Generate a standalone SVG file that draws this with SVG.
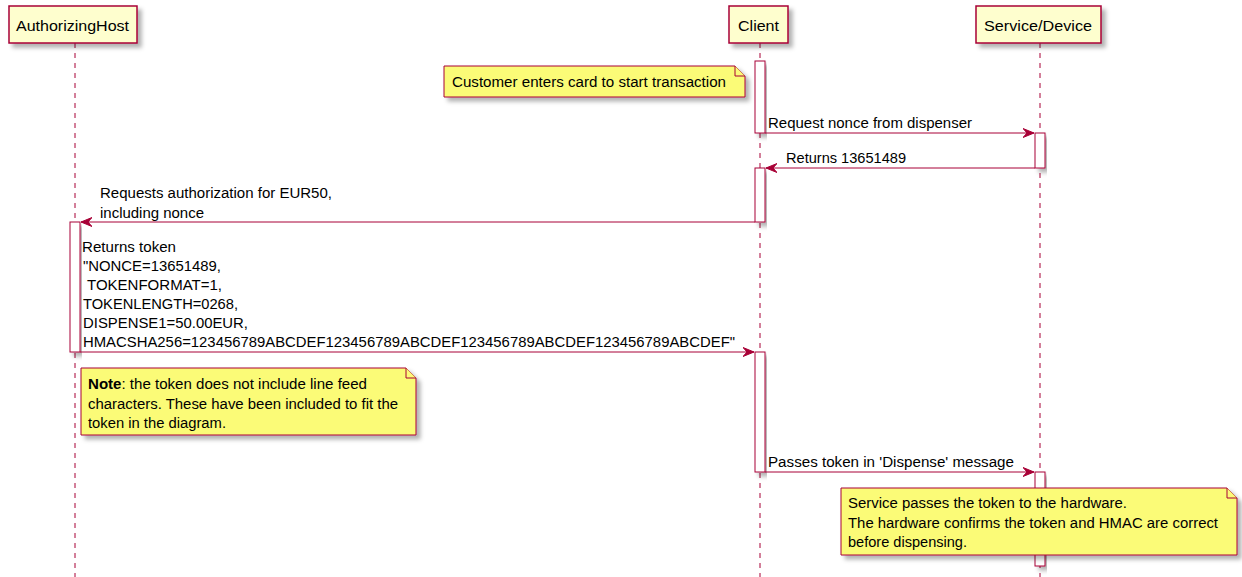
<svg xmlns="http://www.w3.org/2000/svg" width="1242" height="577" viewBox="0 0 1242 577">
<style>
text{font-family:"Liberation Sans",Arial,sans-serif;fill:#000}
.part{fill:#FEFECE;stroke:#A80036;stroke-width:1.5}
.life{stroke:#A80036;stroke-width:1;stroke-dasharray:5,5;fill:none}
.act{fill:#FFFFFF;stroke:#A80036;stroke-width:1}
.note{fill:#FBFB77;stroke:#A80036;stroke-width:1}
.msg{stroke:#A80036;stroke-width:1;fill:none}
.pt{font-size:15px}
.mt{font-size:14px}
.nt{font-size:14px}
</style>
<defs>
<filter id="sh" x="-10%" y="-10%" width="130%" height="140%">
<feDropShadow dx="4" dy="4" stdDeviation="2" flood-color="#000" flood-opacity="0.3"/>
</filter>
<marker id="ah" markerWidth="14" markerHeight="12" refX="11" refY="6" orient="auto-start-reverse" markerUnits="userSpaceOnUse">
<polygon points="0,1.5 11,6 0,10.5 4,6" fill="#A80036" stroke="#A80036" stroke-width="1"/>
</marker>
</defs>
<rect width="1242" height="577" fill="#FFFFFF"/>

<g id="lifelines">
<line class="life" x1="75" y1="43" x2="75" y2="577"/>
<line class="life" x1="760" y1="43" x2="760" y2="577"/>
<line class="life" x1="1040" y1="43" x2="1040" y2="577"/>
</g>

<g id="AuthorizingHost">
<rect class="part" x="9" y="6" width="128" height="37" filter="url(#sh)"/>
<text class="pt" x="16" y="31" textLength="113" lengthAdjust="spacingAndGlyphs">AuthorizingHost</text>
</g>
<g id="Client">
<rect class="part" x="729" y="6" width="59" height="37" filter="url(#sh)"/>
<text class="pt" x="738" y="31" textLength="41" lengthAdjust="spacingAndGlyphs">Client</text>
</g>
<g id="ServiceDevice">
<rect class="part" x="976" y="6" width="125" height="37" filter="url(#sh)"/>
<text class="pt" x="984" y="31" textLength="108" lengthAdjust="spacingAndGlyphs">Service/Device</text>
</g>

<g id="activations">
<rect class="act" x="755" y="61" width="10" height="72" filter="url(#sh)"/>
<rect class="act" x="1035" y="133" width="10" height="35" filter="url(#sh)"/>
<rect class="act" x="755" y="168" width="10" height="54" filter="url(#sh)"/>
<rect class="act" x="70" y="222" width="10" height="130" filter="url(#sh)"/>
<rect class="act" x="755" y="352" width="10" height="120" filter="url(#sh)"/>
<rect class="act" x="1035" y="472" width="10" height="94" filter="url(#sh)"/>
</g>

<g id="note-customer">
<path class="note" d="M444,66 H735 L745,76 V97 H444 Z" filter="url(#sh)"/>
<path class="note" d="M735,66 V76 H745"/>
<text class="nt" x="452" y="87" textLength="274" lengthAdjust="spacingAndGlyphs">Customer enters card to start transaction</text>
</g>

<g id="connectors">
<line class="msg" x1="765" y1="133" x2="1034" y2="133" marker-end="url(#ah)"/>
<line class="msg" x1="1035" y1="168" x2="766" y2="168" marker-end="url(#ah)"/>
<line class="msg" x1="755" y1="222" x2="81" y2="222" marker-end="url(#ah)"/>
<line class="msg" x1="80" y1="352" x2="754" y2="352" marker-end="url(#ah)"/>
<line class="msg" x1="765" y1="472" x2="1034" y2="472" marker-end="url(#ah)"/>
<text class="mt" x="768" y="128" textLength="204" lengthAdjust="spacingAndGlyphs">Request nonce from dispenser</text>
<text class="mt" x="786" y="163" textLength="120" lengthAdjust="spacingAndGlyphs">Returns 13651489</text>
<text class="mt" x="100" y="198" textLength="232" lengthAdjust="spacingAndGlyphs">Requests authorization for EUR50,</text>
<text class="mt" x="100" y="218" textLength="104" lengthAdjust="spacingAndGlyphs">including nonce</text>
<text class="mt" x="82" y="252" textLength="94" lengthAdjust="spacingAndGlyphs">Returns token</text>
<text class="mt" x="83" y="271" textLength="138" lengthAdjust="spacingAndGlyphs">"NONCE=13651489,</text>
<text class="mt" x="87" y="290" textLength="135" lengthAdjust="spacingAndGlyphs">TOKENFORMAT=1,</text>
<text class="mt" x="83" y="309" textLength="155" lengthAdjust="spacingAndGlyphs">TOKENLENGTH=0268,</text>
<text class="mt" x="83" y="328" textLength="165" lengthAdjust="spacingAndGlyphs">DISPENSE1=50.00EUR,</text>
<text class="mt" x="83" y="347" textLength="652" lengthAdjust="spacingAndGlyphs">HMACSHA256=123456789ABCDEF123456789ABCDEF123456789ABCDEF123456789ABCDEF"</text>
<text class="mt" x="768" y="467" textLength="246" lengthAdjust="spacingAndGlyphs">Passes token in 'Dispense' message</text>
</g>

<g id="note-linefeed">
<path class="note" d="M81,368 H406 L416,378 V435 H81 Z" filter="url(#sh)"/>
<path class="note" d="M406,368 V378 H416"/>
<text class="nt" x="88" y="389" textLength="279" lengthAdjust="spacingAndGlyphs"><tspan font-weight="bold">Note</tspan>: the token does not include line feed</text>
<text class="nt" x="88" y="409" textLength="310" lengthAdjust="spacingAndGlyphs">characters. These have been included to fit the</text>
<text class="nt" x="88" y="428" textLength="138" lengthAdjust="spacingAndGlyphs">token in the diagram.</text>
</g>

<g id="note-service">
<path class="note" d="M841,488 H1227 L1237,498 V555 H841 Z" filter="url(#sh)"/>
<path class="note" d="M1227,488 V498 H1237"/>
<text class="nt" x="848" y="508" textLength="279" lengthAdjust="spacingAndGlyphs">Service passes the token to the hardware.</text>
<text class="nt" x="848" y="528" textLength="370" lengthAdjust="spacingAndGlyphs">The hardware confirms the token and HMAC are correct</text>
<text class="nt" x="848" y="547" textLength="119" lengthAdjust="spacingAndGlyphs">before dispensing.</text>
</g>
</svg>
